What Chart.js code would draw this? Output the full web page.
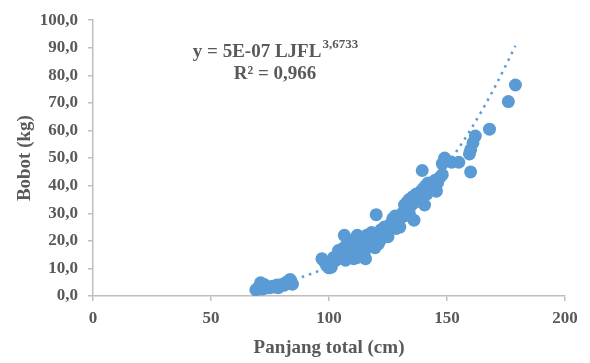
<!DOCTYPE html>
<html>
<head>
<meta charset="utf-8">
<script src="https://cdn.jsdelivr.net/npm/chart.js@4.4.1/dist/chart.umd.min.js"></script>
<style>
	body { margin: 0; background: #fff; }
	#wrap { width: 590px; height: 363px; }
</style>
</head>
<body>
<div id="wrap"><canvas id="grafik_bobot" width="590" height="363"></canvas></div>
<script>
// panjang total (cm) dan bobot (kg) hasil pembacaan dari gambar
var panjang = [
	69, 70, 71, 71.5, 72, 72.5, 73, 74, 75, 76, 77, 78, 78.5, 79, 80, 81, 82, 83, 83.5, 84.5,
	97, 98, 99, 100, 100.5, 101,
	102, 103, 104, 104, 105, 105.5, 106, 106.5, 107, 107, 108, 108.5, 109, 109, 110, 110, 110.5,
	111, 111.5, 112, 112, 113, 113, 114, 114, 115, 115, 115.5, 116, 116, 117, 117.5, 118, 118,
	119, 119.5, 120, 120, 121, 121, 122, 122, 123, 123.5, 124, 125, 125, 126, 127, 127, 128,
	128.5, 129, 130, 130, 131, 132, 132, 133, 133.5, 134, 134, 135, 135.5, 136, 136.5, 137,
	137.5, 138, 139, 139.5, 140, 140.5, 141, 141.5, 142, 143, 144, 145, 145.5, 146, 147, 148,
	148, 149, 150, 152, 155, 160, 159.5, 160, 161, 162, 168, 176, 179
];
var bobot = [
	2.2, 3.0, 4.8, 2.5, 3.5, 4.2, 2.8, 3.2, 3.0, 3.5, 3.3, 4.0, 3.0, 3.8, 4.2, 3.9, 5.0, 4.5, 6.0, 4.3,
	13.5, 12.5, 11.0, 10.2, 12.0, 10.5,
	14, 13, 15, 16.5, 14, 17, 15.5, 22, 18, 13, 16, 19, 14.5, 17, 15.5, 20, 13.5,
	18, 16, 22, 14, 19, 17, 21, 15, 18, 16, 13.5, 20, 22, 18.5, 21.5, 19, 23,
	20, 17.5, 21, 29.5, 22, 19, 24, 20.5, 23, 25, 22, 24, 21.5, 26, 25, 28, 29,
	24.5, 27, 28, 25, 30, 33, 29, 34, 31, 35, 30, 33, 36, 27.5, 34, 37,
	35, 36, 38, 45.5, 39, 33, 40, 37, 41, 39, 40, 42, 38, 41, 43, 44,
	48, 50, 49, 48.5, 48.5, 45, 51.5, 53, 55.5, 58, 60.5, 70.5, 76.5
];

// garis tren (power)
var trenX = [70, 80, 90, 100, 110, 120, 130, 140, 150, 160, 170, 179];
var trenY = [2.9, 4.7, 7.3, 10.7, 15.2, 20.9, 28.1, 36.9, 47.6, 60.3, 75.3, 90.7];

var xTicks = [0, 50, 100, 150, 200];

var persamaan = ['y = 5E-07 LJFL', '3,6733', 'R\u00B2 = 0,966'];

function angka(v) {
	return v.toFixed(1).replace('.', ',');
}

var titik = [];
for (var i = 0; i < panjang.length; i++) {
	titik.push({ x: panjang[i], y: bobot[i] });
}

var tren = [];
for (var i = 0; i < trenX.length; i++) {
	tren.push({ x: trenX[i], y: trenY[i] });
}

var abu = '#595959';
var garis = '#bfbfbf';
var huruf = '"Liberation Serif", "Times New Roman", serif';

// tulisan persamaan regresi
var labelPersamaan = {
	id: 'labelPersamaan',
	afterDraw: function (chart) {
		var ctx = chart.ctx;
		ctx.save();
		ctx.fillStyle = abu;
		ctx.textBaseline = 'alphabetic';
		ctx.font = 'bold 19px ' + huruf;
		var w1 = ctx.measureText(persamaan[0]).width;
		ctx.font = 'bold 13px ' + huruf;
		var w2 = ctx.measureText(persamaan[1]).width;
		var cx = 275;
		var x0 = cx - (w1 + w2) / 2;
		ctx.font = 'bold 19px ' + huruf;
		ctx.textAlign = 'left';
		ctx.fillText(persamaan[0], x0, 57);
		ctx.font = 'bold 13px ' + huruf;
		ctx.fillText(persamaan[1], x0 + w1 + 1, 48);
		ctx.font = 'bold 19px ' + huruf;
		ctx.textAlign = 'center';
		ctx.fillText(persamaan[2], cx, 79);
		ctx.restore();
	}
};

var ctx = document.getElementById('grafik_bobot');

var grafik = new Chart(ctx, {
	type: 'scatter',
	data: {
		datasets: [
			{
				label: 'Bobot',
				data: titik,
				backgroundColor: '#5b9bd5',
				borderWidth: 0,
				pointRadius: 6.5,
				order: 1
			},
			{
				label: 'Tren',
				data: tren,
				showLine: true,
				pointRadius: 0,
				borderColor: '#5b9bd5',
				borderWidth: 2.5,
				borderDash: [2.5, 5],
				cubicInterpolationMode: 'monotone',
				order: 2
			}
		]
	},
	options: {
		responsive: false,
		animation: false,
		layout: { padding: { top: 16, right: 25, left: 10, bottom: 0 } },
		plugins: {
			legend: { display: false },
			tooltip: { enabled: false }
		},
		scales: {
			x: {
				type: 'linear',
				min: 0,
				max: 200,
				afterBuildTicks: function (s) {
					s.ticks = xTicks.map(function (v) { return { value: v }; });
				},
				afterFit: function (s) { s.height = 67; },
				grid: { drawOnChartArea: false, drawTicks: true, tickLength: 5, color: garis, lineWidth: 1.5 },
				border: { color: garis, width: 1.5 },
				ticks: { color: abu, font: { family: huruf, size: 17, weight: 'bold' }, padding: 7 },
				title: {
					display: true,
					text: 'Panjang total (cm)',
					color: abu,
					font: { family: huruf, size: 19, weight: 'bold' },
					padding: { top: 6 }
				}
			},
			y: {
				min: 0,
				max: 100,
				afterFit: function (s) { s.width = 83; },
				grid: { drawOnChartArea: false, drawTicks: true, tickLength: 5, color: garis, lineWidth: 1.5 },
				border: { color: garis, width: 1.5 },
				ticks: {
					stepSize: 10,
					color: abu,
					font: { family: huruf, size: 17, weight: 'bold' },
					padding: 10,
					callback: function (v) { return angka(v); }
				},
				title: {
					display: true,
					text: 'Bobot (kg)',
					color: abu,
					font: { family: huruf, size: 19, weight: 'bold' },
					padding: { bottom: 4 }
				}
			}
		}
	},
	plugins: [labelPersamaan]
});
</script>
</body>
</html>
